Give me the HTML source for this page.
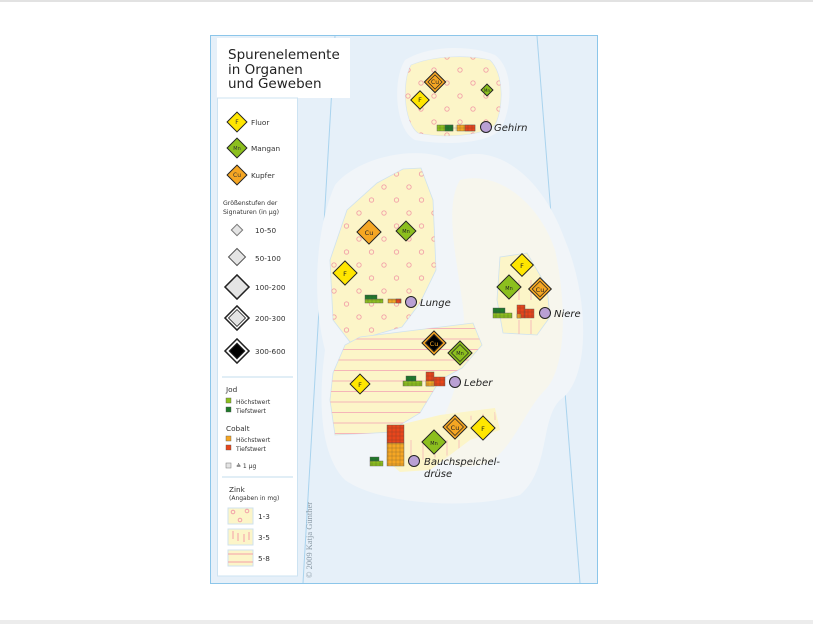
<!DOCTYPE html>
<html><head><meta charset="utf-8"><style>
html,body{margin:0;padding:0;background:#fff;}
svg{display:block;font-family:"DejaVu Sans","Liberation Sans",sans-serif;}
</style></head><body>
<svg width="813" height="624" viewBox="0 0 813 624" xmlns="http://www.w3.org/2000/svg">
<defs>
<pattern id="dots" x="0" y="0" width="26" height="26" patternUnits="userSpaceOnUse">
<circle cx="5" cy="5" r="2.2" fill="none" stroke="#f2a0a8" stroke-width="0.9"/>
<circle cx="18" cy="18" r="2.2" fill="none" stroke="#f2a0a8" stroke-width="0.9"/>
</pattern>
<pattern id="dots2" x="4" y="0" width="25" height="26" patternUnits="userSpaceOnUse">
<circle cx="5" cy="5" r="2.2" fill="none" stroke="#f2a0a8" stroke-width="0.9"/>
<circle cx="17.5" cy="18" r="2.2" fill="none" stroke="#f2a0a8" stroke-width="0.9"/>
</pattern>
<pattern id="stripes" x="0" y="2" width="10" height="10.5" patternUnits="userSpaceOnUse">
<line x1="0" y1="1" x2="10" y2="1" stroke="#f5b5b8" stroke-width="1"/>
</pattern>
<pattern id="vlines" x="0" y="0" width="12" height="40" patternUnits="userSpaceOnUse">
<line x1="3" y1="0" x2="3" y2="20" stroke="#f5b5b8" stroke-width="1"/>
</pattern>
<pattern id="grid" width="4" height="4" patternUnits="userSpaceOnUse">
<rect width="4" height="4" fill="none" stroke="#333" stroke-width="0.4" opacity="0.5"/>
</pattern>
</defs>
<rect x="0" y="0" width="813" height="2" fill="#e2e2e2"/>
<rect x="0" y="620" width="813" height="4" fill="#ececec"/>

<!-- panel -->
<rect x="210.5" y="35.5" width="387" height="548" fill="#e6f0f9" stroke="#8cc6ea" stroke-width="1"/>
<line x1="335" y1="36" x2="303" y2="583" stroke="#a9d3ee" stroke-width="1"/>
<line x1="537" y1="36" x2="580" y2="583" stroke="#a9d3ee" stroke-width="1"/>

<!-- body halo -->
<path d="M335,185 C360,155 420,145 450,160 C490,140 540,170 565,240 C590,300 590,380 560,400 C540,420 550,470 520,495 C470,510 380,505 345,480 C320,455 318,400 325,350 C312,300 315,230 335,185 Z" fill="#f1f5f9"/>
<path d="M460,180 C500,170 540,205 555,250 C568,310 565,370 545,390 C525,410 515,445 490,462 C465,472 440,465 428,445 C455,405 470,350 462,300 C455,250 445,205 460,180 Z" fill="#f9f7e8" opacity="0.7"/>
<!-- gehirn halo -->
<path d="M405,60 C430,45 470,45 495,55 C515,70 512,110 500,130 C485,145 440,145 415,140 C395,130 392,80 405,60 Z" fill="#f1f5f9"/>
<path d="M411,65 C435,55 470,55 490,60 C505,75 503,110 495,125 C480,137 440,138 418,133 C403,122 402,80 411,65 Z" fill="#fcf5c8" stroke="#d6e4ee" stroke-width="0.6"/>
<path d="M411,65 C435,55 470,55 490,60 C505,75 503,110 495,125 C480,137 440,138 418,133 C403,122 402,80 411,65 Z" fill="url(#dots)"/>

<!-- lung -->
<path d="M403,169 L421,168 L433,200 L436,270 L420,303 L402,327 L350,342 L333,320 L330,260 L347,210 L377,183 Z" fill="#fcf5c8" stroke="#cfe2ee" stroke-width="0.8"/>
<path d="M403,169 L421,168 L433,200 L436,270 L420,303 L402,327 L350,342 L333,320 L330,260 L347,210 L377,183 Z" fill="url(#dots2)"/>
<!-- liver -->
<path d="M360,337 L473,323 L482,345 L462,368 L440,380 L420,413 L400,425 L395,432 L335,435 L330,400 L333,373 L345,345 Z" fill="#fcf5c8" stroke="#cfe2ee" stroke-width="0.8"/>
<path d="M360,337 L473,323 L482,345 L462,368 L440,380 L420,413 L400,425 L395,432 L335,435 L330,400 L333,373 L345,345 Z" fill="url(#stripes)"/>
<!-- pancreas -->
<path d="M403,424 L440,415 L495,408 L500,430 L470,440 L450,455 L430,470 L400,472 L386,460 L390,430 Z" fill="#fcf5c8"/>
<path d="M410,425 L495,412 L497,432 L470,440 L450,455 L410,462 Z" fill="url(#vlines)" opacity="0.8"/>
<!-- kidney -->
<path d="M500,257 L527,253 L547,287 L550,317 L537,335 L503,333 L497,300 Z" fill="#fcf5c8" stroke="#cfe2ee" stroke-width="0.8"/>
<path d="M510,275 L540,275 L540,334 L510,334 Z" fill="url(#vlines)" opacity="0.9"/>

<!-- legend -->
<rect x="217" y="38" width="133" height="60" fill="#fff"/>
<rect x="217.5" y="98" width="80" height="478" fill="#fff" stroke="#cde3f2" stroke-width="1"/>
<line x1="222" y1="377" x2="293" y2="377" stroke="#d7e8f4" stroke-width="1.5"/>
<line x1="222" y1="477" x2="293" y2="477" stroke="#d7e8f4" stroke-width="1.5"/>
<text font-size="13.5" fill="#222"><tspan x="228" y="59">Spurenelemente</tspan><tspan x="228" y="74">in Organen</tspan><tspan x="228" y="88">und Geweben</tspan></text>
<g font-size="7.3" fill="#333">
<text x="251" y="125">Fluor</text><text x="251" y="151">Mangan</text><text x="251" y="178">Kupfer</text>
<text x="223" y="205" font-size="6.2">Größenstufen der</text><text x="223" y="214" font-size="6.2">Signaturen (in µg)</text>
<text x="255" y="233">10-50</text><text x="255" y="261">50-100</text><text x="255" y="290">100-200</text><text x="255" y="321">200-300</text><text x="255" y="354">300-600</text>
<text x="226" y="392">Jod</text>
<text x="236" y="404" font-size="6">Höchstwert</text><text x="236" y="413" font-size="6">Tiefstwert</text>
<text x="226" y="431">Cobalt</text>
<text x="236" y="442" font-size="6">Höchstwert</text><text x="236" y="451" font-size="6">Tiefstwert</text>
<text x="236" y="468" font-size="6">≙ 1 µg</text>
<text x="229" y="492">Zink</text><text x="229" y="500" font-size="6">(Angaben in mg)</text>
<text x="258" y="519">1-3</text><text x="258" y="540">3-5</text><text x="258" y="561">5-8</text>
</g>
<rect x="226" y="398" width="5" height="5" fill="#8cbf1e" stroke="#555" stroke-width="0.4"/>
<rect x="226" y="407" width="5" height="5" fill="#1f7a2a" stroke="#555" stroke-width="0.4"/>
<rect x="226" y="436" width="5" height="5" fill="#f5a623" stroke="#555" stroke-width="0.4"/>
<rect x="226" y="445" width="5" height="5" fill="#e8461c" stroke="#555" stroke-width="0.4"/>
<rect x="226" y="463" width="5" height="5" fill="#e4e4e4" stroke="#777" stroke-width="0.5"/>
<rect x="228" y="508" width="25" height="16" fill="#fcf5c8" stroke="#cfe2ee"/>
<circle cx="233" cy="512" r="1.8" fill="none" stroke="#f2a0a8"/><circle cx="247" cy="511" r="1.8" fill="none" stroke="#f2a0a8"/><circle cx="240" cy="520" r="1.8" fill="none" stroke="#f2a0a8"/>
<rect x="228" y="529" width="25" height="16" fill="#fcf5c8" stroke="#cfe2ee"/>
<path d="M233,531v8M238,533v8M244,534v8M249,532v8" stroke="#f5a0a8"/>
<rect x="228" y="550" width="25" height="16" fill="#fcf5c8" stroke="#cfe2ee"/>
<path d="M228,554h25M228,562h25" stroke="#f5a0a8"/>
<text transform="translate(312,578) rotate(-90)" font-family="Liberation Serif,serif" font-size="8.5" fill="#8a9aa6">© 2009 Katja Günther</text>

<!-- legend diamonds -->
<g stroke="#222" stroke-width="1">
<rect x="-7" y="-7" width="14" height="14" transform="translate(237,122) rotate(45)" fill="#ffe600"/>
<rect x="-7" y="-7" width="14" height="14" transform="translate(237,148) rotate(45)" fill="#8cbf1e"/>
<rect x="-7" y="-7" width="14" height="14" transform="translate(237,175) rotate(45)" fill="#f5a623"/>
<rect x="-4" y="-4" width="8" height="8" transform="translate(237,230) rotate(45)" fill="#e4e4e4" stroke="#777"/>
<rect x="-6" y="-6" width="12" height="12" transform="translate(237,257) rotate(45)" fill="#e4e4e4" stroke="#555"/>
<rect x="-8.5" y="-8.5" width="17" height="17" transform="translate(237,287) rotate(45)" fill="#e4e4e4" stroke-width="1.5"/>
<rect x="-8.5" y="-8.5" width="17" height="17" transform="translate(237,318) rotate(45)" fill="#fff" stroke-width="1.5"/>
<rect x="-6" y="-6" width="12" height="12" transform="translate(237,318) rotate(45)" fill="#e4e4e4" stroke-width="0.8"/>
<rect x="-8.5" y="-8.5" width="17" height="17" transform="translate(237,351) rotate(45)" fill="#fff" stroke-width="1.5"/>
<rect x="-5.5" y="-5.5" width="11" height="11" transform="translate(237,351) rotate(45)" fill="#000"/>
</g>
<g font-size="6" text-anchor="middle" fill="#333">
<text x="237" y="124">F</text><text x="237" y="150" font-size="5">Mn</text><text x="237" y="177">Cu</text>
</g>

<!-- map diamonds -->
<g stroke="#222" stroke-width="1">
<rect x="-7.5" y="-7.5" width="15" height="15" transform="translate(435,82) rotate(45)" fill="#f5a623"/>
<rect x="-5" y="-5" width="10" height="10" transform="translate(435,82) rotate(45)" fill="none" stroke-width="0.7"/>
<rect x="-6.5" y="-6.5" width="13" height="13" transform="translate(420,100) rotate(45)" fill="#ffe600"/>
<rect x="-4.2" y="-4.2" width="8.4" height="8.4" transform="translate(487,90) rotate(45)" fill="#8cbf1e"/>
<rect x="-8.5" y="-8.5" width="17" height="17" transform="translate(369,232) rotate(45)" fill="#f5a623"/>
<rect x="-7" y="-7" width="14" height="14" transform="translate(406,231) rotate(45)" fill="#8cbf1e"/>
<rect x="-8.5" y="-8.5" width="17" height="17" transform="translate(345,273) rotate(45)" fill="#ffe600"/>
<rect x="-8" y="-8" width="16" height="16" transform="translate(522,265) rotate(45)" fill="#ffe600"/>
<rect x="-8.5" y="-8.5" width="17" height="17" transform="translate(509,287) rotate(45)" fill="#8cbf1e"/>
<rect x="-8" y="-8" width="16" height="16" transform="translate(540,289) rotate(45)" fill="#f5a623"/>
<rect x="-5.5" y="-5.5" width="11" height="11" transform="translate(540,289) rotate(45)" fill="none" stroke-width="0.7"/>
<rect x="-8.5" y="-8.5" width="17" height="17" transform="translate(434,343) rotate(45)" fill="#f5a623"/>
<rect x="-6" y="-6" width="12" height="12" transform="translate(434,343) rotate(45)" fill="#000"/>
<rect x="-8.5" y="-8.5" width="17" height="17" transform="translate(460,353) rotate(45)" fill="#8cbf1e"/>
<rect x="-6" y="-6" width="12" height="12" transform="translate(460,353) rotate(45)" fill="none" stroke-width="0.7"/>
<rect x="-7" y="-7" width="14" height="14" transform="translate(360,384) rotate(45)" fill="#ffe600"/>
<rect x="-8.5" y="-8.5" width="17" height="17" transform="translate(455,427) rotate(45)" fill="#f5a623"/>
<rect x="-6" y="-6" width="12" height="12" transform="translate(455,427) rotate(45)" fill="none" stroke-width="0.7"/>
<rect x="-8.5" y="-8.5" width="17" height="17" transform="translate(483,428) rotate(45)" fill="#ffe600"/>
<rect x="-8.5" y="-8.5" width="17" height="17" transform="translate(434,442) rotate(45)" fill="#8cbf1e"/>
</g>
<g font-size="6.5" text-anchor="middle" fill="#222">
<text x="435" y="84" font-size="6">Cu</text><text x="420" y="102">F</text><text x="487" y="92" font-size="4">Mn</text>
<text x="369" y="235">Cu</text><text x="406" y="233" font-size="5">Mn</text><text x="345" y="276">F</text>
<text x="522" y="268">F</text><text x="509" y="290" font-size="5">Mn</text><text x="540" y="292">Cu</text>
<text x="434" y="346" fill="#f5a623">Cu</text><text x="460" y="355" font-size="5">Mn</text><text x="360" y="387">F</text>
<text x="455" y="430">Cu</text><text x="483" y="431">F</text><text x="434" y="445" font-size="5">Mn</text>
</g>

<!-- cubes -->
<g stroke="#555" stroke-width="0.4">
<rect x="437" y="125" width="16" height="6" fill="#8cbf1e"/><rect x="445" y="125" width="8" height="6" fill="#1f7a2a"/>
<rect x="457" y="125" width="18" height="6" fill="#f5a623"/><rect x="465" y="125" width="10" height="6" fill="#e8461c"/>
<rect x="365" y="299" width="18" height="4" fill="#8cbf1e"/><rect x="365" y="295" width="12" height="4" fill="#1f7a2a"/>
<rect x="388" y="299" width="13" height="4" fill="#f5a623"/><rect x="396" y="299" width="5" height="4" fill="#e8461c"/>
<rect x="493" y="313" width="19" height="5" fill="#8cbf1e"/><rect x="493" y="308" width="12" height="5" fill="#1f7a2a"/>
<rect x="517" y="305" width="8" height="13" fill="#e8461c"/><rect x="525" y="309" width="9" height="9" fill="#e8461c"/><rect x="517" y="314" width="4" height="4" fill="#f5a623"/>
<rect x="403" y="381" width="19" height="5" fill="#8cbf1e"/><rect x="406" y="376" width="10" height="5" fill="#1f7a2a"/>
<rect x="426" y="372" width="8" height="14" fill="#e8461c"/><rect x="434" y="377" width="11" height="9" fill="#e8461c"/><rect x="426" y="381" width="8" height="5" fill="#f5a623"/>
<rect x="387" y="425" width="17" height="18" fill="#e8461c"/><rect x="387" y="443" width="17" height="23" fill="#f5a623"/>
<rect x="370" y="461" width="13" height="5" fill="#8cbf1e"/><rect x="370" y="457" width="9" height="4" fill="#1f7a2a"/>
</g>
<g fill="url(#grid)">
<rect x="437" y="125" width="38" height="6"/><rect x="365" y="295" width="12" height="8"/><rect x="377" y="299" width="6" height="4"/><rect x="388" y="299" width="13" height="4"/>
<rect x="493" y="308" width="12" height="10"/><rect x="505" y="313" width="7" height="5"/><rect x="517" y="305" width="8" height="13"/><rect x="525" y="309" width="9" height="9"/>
<rect x="406" y="376" width="10" height="5"/><rect x="403" y="381" width="19" height="5"/><rect x="426" y="372" width="8" height="14"/><rect x="434" y="377" width="11" height="9"/>
<rect x="387" y="425" width="17" height="41"/><rect x="370" y="457" width="9" height="9"/><rect x="379" y="461" width="4" height="5"/>
</g>

<!-- purple markers -->
<g fill="#b9a0d4" stroke="#222" stroke-width="1">
<circle cx="486" cy="127" r="5.5"/><circle cx="411" cy="302" r="5.5"/><circle cx="545" cy="313" r="5.5"/>
<circle cx="455" cy="382" r="5.5"/><circle cx="414" cy="461" r="5.5"/>
</g>
<g font-size="10" font-style="italic" fill="#222">
<text x="494" y="131">Gehirn</text><text x="420" y="306">Lunge</text><text x="554" y="317">Niere</text>
<text x="464" y="386">Leber</text><text x="424" y="465">Bauchspeichel-</text><text x="424" y="477">drüse</text>
</g>
</svg>
</body></html>
